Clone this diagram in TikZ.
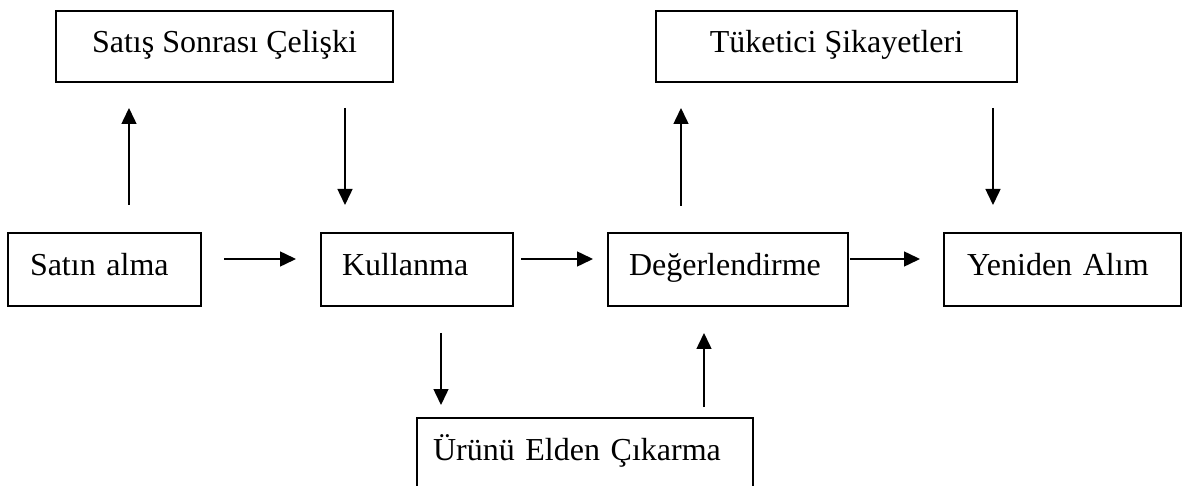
\documentclass[tikz,border=0pt]{standalone}
\usepackage{fontspec}
\setmainfont{Liberation Serif}
\usetikzlibrary{arrows.meta}
\tikzset{
  box/.style={draw, line width=1.5pt, anchor=north west, outer sep=0pt,
    minimum height=73pt, inner ysep=0pt, text height=22pt, text depth=10pt,
    font=\fontsize{32}{38}\selectfont},
  flowarrow/.style={-{Triangle[length=16pt, width=15pt]}, line width=1.5pt}
}

\begin{document}
\begin{tikzpicture}[x=1pt, y=-1pt]
    \useasboundingbox (0,0) rectangle (1189,486);

    \node[box, minimum width=337pt, minimum height=71pt] (sonra) at (56,11) {Satış Sonrası Çelişki};
    \node[box, minimum width=361pt, minimum height=71pt] (sikayet) at (656,11) {Tüketici Şikayetleri};

    \node[box, inner xsep=22pt, text width=149pt] (satin) at (8,233) {\noindent Satın alma};
    \node[box, inner xsep=21pt, text width=150pt] (kullan) at (321,233) {\noindent Kullanma};
    \node[box, inner xsep=21pt, text width=198pt] (deger) at (608,233) {\noindent Değerlendirme};
    \node[box, inner xsep=23pt, text width=191pt] (yeniden) at (944,233) {\noindent Yeniden Alım};

    \node[box, inner xsep=16pt, text width=304pt] (cikar) at (417,418) {\noindent Ürünü Elden Çıkarma};

    \draw[flowarrow, shorten <=23pt, shorten >=25pt] ([yshift=10.5pt]satin.east) -- ([yshift=10.5pt]kullan.west);
    \draw[flowarrow, shorten <=8pt, shorten >=15pt] ([yshift=10.5pt]kullan.east) -- ([yshift=10.5pt]deger.west);
    \draw[flowarrow, shorten <=2pt, shorten >=24pt] ([yshift=10.5pt]deger.east) -- ([yshift=10.5pt]yeniden.west);

    \draw[flowarrow, shorten <=28pt, shorten >=26pt] ([xshift=24.5pt]satin.north) -- ([xshift=24.5pt]satin.north |- sonra.south);
    \draw[flowarrow, shorten <=26pt, shorten >=28pt] ([xshift=-72pt]kullan.north |- sonra.south) -- ([xshift=-72pt]kullan.north);
    \draw[flowarrow, shorten <=27pt, shorten >=26pt] ([xshift=-47pt]deger.north) -- ([xshift=-47pt]deger.north |- sikayet.south);
    \draw[flowarrow, shorten <=26pt, shorten >=28pt] ([xshift=-69.5pt]yeniden.north |- sikayet.south) -- ([xshift=-69.5pt]yeniden.north);

    \draw[flowarrow, shorten <=27pt, shorten >=13pt] ([xshift=24pt]kullan.south) -- ([xshift=24pt]kullan.south |- cikar.north);
    \draw[flowarrow, shorten <=11pt, shorten >=27pt] ([xshift=-24pt]deger.south |- cikar.north) -- ([xshift=-24pt]deger.south);
\end{tikzpicture}
\end{document}
